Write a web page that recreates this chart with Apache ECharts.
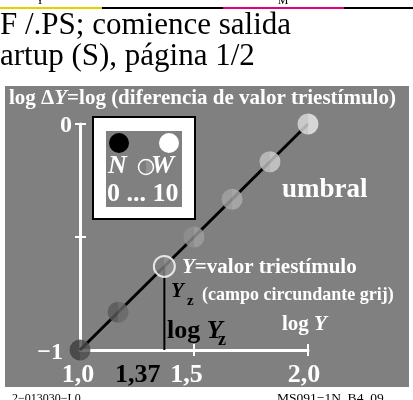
<!DOCTYPE html>
<html>
<head>
<meta charset="utf-8">
<script src="https://cdn.jsdelivr.net/npm/echarts@6/dist/echarts.min.js"></script>
<style>
  html, body { margin: 0; padding: 0; background: #ffffff; }
  #chart { width: 413px; height: 400px; }
</style>
</head>
<body>
<div id="chart"></div>
<script>
// Axis ticks and their labels (log Y on x, log ΔY on y)
const xTickValues = [1.0, 1.37, 1.5, 2.0];
const xTickLabels = ['1,0', '1,37', '1,5', '2,0'];
const xTickMarks = [1.5, 2.0];
const yTickValues = [0, -1];
const yTickLabels = ['0', '−1'];
const yTickMarks = [0, -0.5];

// Threshold line: log ΔY against log Y
const thresholdLogY = [1.0, 2.0];
const thresholdLogDY = [-1.0, 0.0];

// Grey steps from N (black) to W (white) sitting on the threshold line
const stepLogY = [1.0, 1.167, 1.37, 1.5, 1.667, 1.833, 2.0];
const stepLogDY = [-1.0, -0.833, -0.63, -0.5, -0.333, -0.167, 0.0];
const surroundIndex = 2;           // step equal to the surround field
const surroundLogY = 1.37;

// Two-tone fill of each step disc (left half, right half)
const stepLeft  = ['#3d3d3d', '#585858', '#7e7e7e', '#909090', '#a4a4a4', '#c3c3c3', '#dcdcdc'];
const stepRight = ['#4b4b4b', '#686868', '#929292', '#9f9f9f', '#aeaeae', '#cfcfcf', '#ececec'];

const SERIF = '"Liberation Serif", "Times New Roman", serif';
const GREY = '#808080';

function split(l, r) {
  return {
    type: 'linear', x: 0, y: 0, x2: 1, y2: 0,
    colorStops: [
      { offset: 0, color: l }, { offset: 0.5, color: l },
      { offset: 0.5, color: r }, { offset: 1, color: r }
    ]
  };
}

function label(text, x, baseline, size, opts) {
  opts = opts || {};
  return {
    type: 'text', z: 100,
    style: {
      text: text, x: x, y: baseline - 0.34 * size,
      fill: opts.fill || '#ffffff',
      fontFamily: SERIF, fontSize: size,
      fontWeight: opts.weight || 'bold',
      fontStyle: opts.style || 'normal',
      align: opts.align || 'left', verticalAlign: 'middle',
      rich: opts.rich
    }
  };
}

const stepPoints = stepLogY.map((x, i) => ({
  value: [x, stepLogDY[i]],
  itemStyle: i === surroundIndex
    ? { color: split(stepLeft[i], stepRight[i]), borderColor: '#ffffff', borderWidth: 2 }
    : { color: split(stepLeft[i], stepRight[i]) }
}));

const graphics = [
  // grey field
  { type: 'rect', z: -10, shape: { x: 5, y: 86, width: 404, height: 301 }, style: { fill: GREY } },
  // colour strip along the top
  { type: 'rect', shape: { x: 0, y: 7, width: 102, height: 2 }, style: { fill: '#e6d000' } },
  { type: 'rect', shape: { x: 102, y: 7, width: 121, height: 2 }, style: { fill: '#000000' } },
  { type: 'rect', shape: { x: 223, y: 7, width: 121, height: 2 }, style: { fill: '#e0007e' } },
  { type: 'rect', shape: { x: 344, y: 7, width: 69, height: 2 }, style: { fill: '#000000' } },
  label('Y', 40, 5, 12, { fill: '#000', weight: 'normal', align: 'center' }),
  label('M', 283, 5, 12, { fill: '#000', weight: 'normal', align: 'center' }),
  // header lines
  label('F /.PS; comience salida', 0, 36, 31, { fill: '#000', weight: 'normal' }),
  label('artup (S), página 1/2', 0, 67, 31, { fill: '#000', weight: 'normal' }),
  // chart title
  label('{a|log Δ}{i|Y}{a|=log (diferencia de valor triestímulo)}', 9, 106, 21, {
    rich: {
      a: { fill: '#fff', fontFamily: SERIF, fontSize: 21, fontWeight: 'bold' },
      i: { fill: '#fff', fontFamily: SERIF, fontSize: 21, fontWeight: 'bold', fontStyle: 'italic' }
    }
  }),
  // N ... W key
  { type: 'rect', z: 50, shape: { x: 93, y: 117, width: 102, height: 102 }, style: { fill: '#ffffff', stroke: '#000000', lineWidth: 2 } },
  { type: 'rect', z: 51, shape: { x: 106, y: 131, width: 76, height: 76 }, style: { fill: GREY } },
  { type: 'circle', z: 52, shape: { cx: 119, cy: 143, r: 10 }, style: { fill: '#000000' } },
  { type: 'circle', z: 52, shape: { cx: 169, cy: 143, r: 10 }, style: { fill: '#ffffff' } },
  { type: 'circle', z: 52, shape: { cx: 146, cy: 167, r: 7.5 }, style: { fill: split('#7e7e7e', '#929292'), stroke: '#ffffff', lineWidth: 1.5 } },
  label('N', 108, 175, 26, { style: 'italic' }),
  label('W', 151, 175, 26, { style: 'italic' }),
  label('0 ... 10', 107, 203, 26),
  // annotations
  label('umbral', 282, 199, 27),
  label('{i|Y}{a|=valor triestímulo}', 182, 275, 21, {
    rich: {
      a: { fill: '#fff', fontFamily: SERIF, fontSize: 21, fontWeight: 'bold' },
      i: { fill: '#fff', fontFamily: SERIF, fontSize: 21, fontWeight: 'bold', fontStyle: 'italic' }
    }
  }),
  label('Y', 171, 299, 21, { fill: '#000', style: 'italic' }),
  label('z', 187, 306, 15, { fill: '#000' }),
  label('(campo circundante grij)', 202, 301, 18),
  label('{a|log }{i|Y}', 167, 340, 26, {
    rich: {
      a: { fill: '#000', fontFamily: SERIF, fontSize: 26, fontWeight: 'bold' },
      i: { fill: '#000', fontFamily: SERIF, fontSize: 26, fontWeight: 'bold', fontStyle: 'italic' }
    }
  }),
  label('z', 218, 346, 18, { fill: '#000' }),
  label('{a|log }{i|Y}', 282, 332, 21, {
    rich: {
      a: { fill: '#fff', fontFamily: SERIF, fontSize: 21, fontWeight: 'bold' },
      i: { fill: '#fff', fontFamily: SERIF, fontSize: 21, fontWeight: 'bold', fontStyle: 'italic' }
    }
  }),
  // footer codes
  label('2−013030−L0', 12, 403, 12, { fill: '#000', weight: 'normal' }),
  label('MS091−1N_B4_09', 277, 403, 13.5, { fill: '#000', weight: 'normal' })
];

const tickFont = { fontFamily: SERIF, fontSize: 26, fontWeight: 'bold' };
const xRich = {
  w0: Object.assign({ color: '#fff', padding: [0, 4, 0, 0] }, tickFont),
  b:  Object.assign({ color: '#000', padding: [0, 53, 0, 0] }, tickFont),
  w5: Object.assign({ color: '#fff', padding: [0, 15, 0, 0] }, tickFont),
  w2: Object.assign({ color: '#fff', padding: [0, 8, 0, 0] }, tickFont)
};
const xStyleKeys = ['w0', 'b', 'w5', 'w2'];
const yRich = {
  y0: { color: '#fff', fontFamily: SERIF, fontSize: 24, fontWeight: 'bold', padding: [4, 0, 0, 0] },
  y1: { color: '#fff', fontFamily: SERIF, fontSize: 24, fontWeight: 'bold', padding: [6, 9, 0, 0] }
};
const yStyleKeys = ['y0', 'y1'];

function findIndex(arr, v) {
  return arr.findIndex(a => Math.abs(a - v) < 1e-6);
}

const whiteLine = { color: '#ffffff', width: 3 };
const tickLine = { color: '#ffffff', width: 2 };

const option = {
  animation: false,
  backgroundColor: '#ffffff',
  graphic: graphics,
  grid: { left: 80, top: 124, width: 228, height: 226, containLabel: false },
  xAxis: [
    {
      type: 'value', min: 1, max: 2, position: 'bottom',
      axisLine: { show: true, onZero: false, lineStyle: whiteLine },
      axisTick: { show: true, length: 6, customValues: xTickMarks, lineStyle: tickLine },
      splitLine: { show: false },
      axisLabel: {
        show: true, margin: 12, customValues: xTickValues,
        formatter: v => {
          const i = findIndex(xTickValues, v);
          return i < 0 ? '' : '{' + xStyleKeys[i] + '|' + xTickLabels[i] + '}';
        },
        rich: xRich
      }
    },
    {
      type: 'value', min: 1, max: 2, position: 'bottom',
      axisLine: { show: false, onZero: false },
      axisTick: { show: true, inside: true, length: 6, customValues: xTickMarks, lineStyle: tickLine },
      splitLine: { show: false },
      axisLabel: { show: false }
    }
  ],
  yAxis: [
    {
      type: 'value', min: -1, max: 0, position: 'left',
      axisLine: { show: true, onZero: false, lineStyle: whiteLine },
      axisTick: { show: true, length: 5, customValues: yTickMarks, lineStyle: tickLine },
      splitLine: { show: false },
      axisLabel: {
        show: true, margin: 8, customValues: yTickValues,
        formatter: v => {
          const i = findIndex(yTickValues, v);
          return i < 0 ? '' : '{' + yStyleKeys[i] + '|' + yTickLabels[i] + '}';
        },
        rich: yRich
      }
    },
    {
      type: 'value', min: -1, max: 0, position: 'left', offset: 0,
      axisLine: { show: false, onZero: false },
      axisTick: { show: true, inside: true, length: 6, customValues: yTickMarks, lineStyle: tickLine },
      splitLine: { show: false },
      axisLabel: { show: false }
    }
  ],
  series: [
    {
      name: 'umbral', type: 'line', z: 2,
      data: thresholdLogY.map((x, i) => [x, thresholdLogDY[i]]),
      symbol: 'none', lineStyle: { color: '#000000', width: 3 }
    },
    {
      name: 'Yz', type: 'line', z: 2,
      data: [[surroundLogY, stepLogDY[surroundIndex]], [surroundLogY, -1]],
      symbol: 'none', lineStyle: { color: '#000000', width: 2 }
    },
    {
      name: 'steps', type: 'scatter', z: 3,
      symbol: 'circle', symbolSize: 21,
      data: stepPoints
    }
  ]
};

const chart = echarts.init(document.getElementById('chart'), null, { renderer: 'canvas' });
chart.setOption(option);
</script>
</body>
</html>
